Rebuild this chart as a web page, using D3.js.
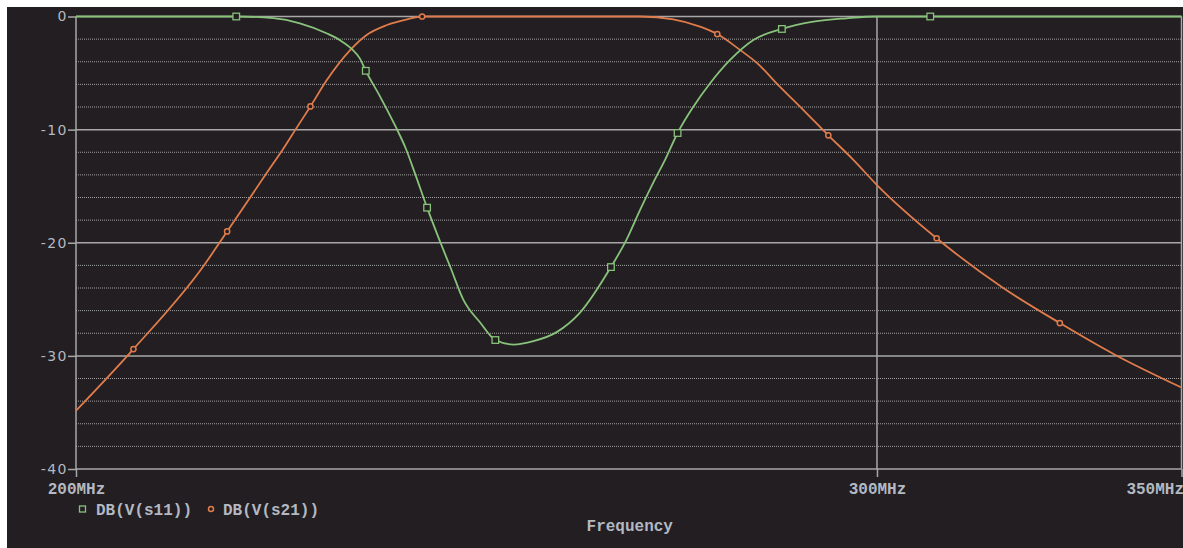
<!DOCTYPE html>
<html>
<head>
<meta charset="utf-8">
<script src="https://cdn.jsdelivr.net/npm/d3@7"></script>
<style>
  body { margin: 0; background: #ffffff; }
  .mono { font-family: "Liberation Mono", "DejaVu Sans Mono", monospace; font-size: 16px; font-weight: bold; fill: #b3b8c1; }
  .y-axis text { font-family: "DejaVu Sans", sans-serif; font-size: 14px; letter-spacing: 1.5px; fill: #b3b8c1; }
  .x-axis text { font-family: "Liberation Mono", monospace; font-size: 16px; font-weight: bold; fill: #b3b8c1; }
  .domain, .tick line { stroke: #a8a8a8; }
</style>
</head>
<body>
<svg id="svgchart"></svg>
<script>
'use strict'

// S21 trace (MHz, dB)
const s21Freq = [200.0, 205.9, 213.3, 215.9, 220.3, 222.2, 223.5, 225.2, 227.1, 229.8, 231.7, 234.1, 236.5, 238.3,
  250.0, 260.0, 266.1, 270.6, 274.3, 276.7, 279.9, 282.3, 285.6, 289.0, 292.7, 296.4, 300.0, 309.2, 319.8, 329.1, 338.4, 350.0]
const s21Db = [-34.85, -29.4, -22.1, -19.0, -13.8, -11.6, -10.0, -7.95, -5.6, -2.95, -1.63, -0.75, -0.25, 0,
  0, 0, 0, -0.25, -0.9, -1.55, -2.95, -4.1, -6.2, -8.25, -10.5, -12.65, -14.9, -19.6, -24.0, -27.1, -29.9, -32.8]
const s21Marks = [205.9, 215.9, 225.2, 238.3, 276.7, 292.7, 309.2, 329.1]

// S11 trace (MHz, dB)
const s11Freq = [200.0, 216.9, 221.0, 224.0, 227.1, 228.6, 230.0, 230.9, 231.6, 233.3, 235.1, 236.3, 237.5, 238.9,
  240.5, 241.7, 243.3, 245.4, 247.3, 249.6, 252.1, 255.1, 258.1, 262.2, 264.3, 266.1, 268.1, 269.5, 271.2,
  273.4, 275.7, 278.5, 281.8, 285.9, 290.5, 295.4, 300.0, 308.2, 350.0]
const s11Db = [0, 0, -0.15, -0.6, -1.5, -2.1, -2.9, -3.7, -4.8, -7.1, -9.7, -11.6, -14.0, -16.9,
  -19.95, -22.1, -25.0, -27.05, -28.6, -29.0, -28.7, -27.9, -26.2, -22.15, -19.7, -17.1, -14.4, -12.65, -10.3,
  -7.95, -5.9, -3.84, -2.07, -1.1, -0.46, -0.16, 0, 0, 0]
const s11Marks = [216.9, 231.6, 238.9, 247.3, 262.2, 271.2, 285.9, 308.2]

const xTicks = [200, 300, 350]
const yTicks = [0, -10, -20, -30, -40]
const yMinor = [-2, -4, -6, -8, -12, -14, -16, -18, -22, -24, -26, -28, -32, -34, -36, -38]
const legendNames = ["DB(V(s11))", "DB(V(s21))"]
const xTitle = "Frequency"

const width = 1183
const height = 548
const margins = {top: 16.5, right: 1.5, bottom: 79, left: 76}
const chartWidth = width - margins.left - margins.right
const chartHeight = height - margins.top - margins.bottom
const bg = "#221e21"
const green = "#88c27b"
const orange = "#e07c4c"

const x = d3.scaleLog().domain([200, 350]).range([0, chartWidth])
const y = d3.scaleLinear().domain([-40, 0]).range([chartHeight, 0])

const svg = d3.select('#svgchart')
  .attr("width", width)
  .attr("height", height)

// dark panel
svg.append("rect")
  .attr("x", 7).attr("y", 7)
  .attr("width", width - 7).attr("height", height - 7)
  .attr("fill", bg)

const chart = svg.append("g")
  .attr("transform", "translate(" + margins.left + "," + margins.top + ")")

// dotted minor grid
chart.selectAll(".minor")
  .data(yMinor)
  .enter().append("line")
  .attr("x1", 0).attr("x2", chartWidth)
  .attr("y1", d => y(d)).attr("y2", d => y(d))
  .attr("stroke", "#b8b8b8")
  .attr("stroke-width", 1)
  .attr("stroke-dasharray", "1 1")
  .attr("opacity", 0.85)

// solid major grid
chart.selectAll(".major")
  .data(yTicks)
  .enter().append("line")
  .attr("x1", 0).attr("x2", chartWidth)
  .attr("y1", d => y(d)).attr("y2", d => y(d))
  .attr("stroke", "#a8a8a8")
  .attr("stroke-width", 1.5)
chart.selectAll(".vmajor")
  .data(xTicks)
  .enter().append("line")
  .attr("x1", d => x(d)).attr("x2", d => x(d))
  .attr("y1", 0).attr("y2", chartHeight)
  .attr("stroke", "#a8a8a8")
  .attr("stroke-width", 1.5)

// y axis (plain hyphen like the original)
const yAxis = chart.append("g")
  .classed("y-axis", true)
  .call(d3.axisLeft(y).tickValues(yTicks).tickFormat(d => String(d)).tickSize(8).tickPadding(0))
yAxis.select(".domain").remove()
yAxis.selectAll("line").attr("stroke-width", 1.5)

// x axis
const xAxis = chart.append("g")
  .classed("x-axis", true)
  .attr("transform", "translate(0," + chartHeight + ")")
  .call(d3.axisBottom(x).tickValues(xTicks).tickFormat(d => d + "MHz").tickSize(8).tickPadding(6))
xAxis.select(".domain").remove()
xAxis.selectAll("line").attr("stroke-width", 1.5)
xAxis.selectAll("text").filter(d => d == 350).attr("text-anchor", "end").attr("dx", 2)

// traces
const line = d3.line()
  .x(d => x(d[0]))
  .y(d => y(d[1]))
  .curve(d3.curveMonotoneX)

const s11 = s11Freq.map((f, i) => [f, s11Db[i]])
const s21 = s21Freq.map((f, i) => [f, s21Db[i]])

chart.append("path").datum(s21)
  .attr("d", line).attr("fill", "none")
  .attr("stroke", orange).attr("stroke-width", 1.8)
chart.append("path").datum(s11)
  .attr("d", line).attr("fill", "none")
  .attr("stroke", green).attr("stroke-width", 1.8)

// markers on the traces
chart.selectAll(".m21")
  .data(s21Marks.map(f => s21.find(p => p[0] == f)))
  .enter().append("circle")
  .attr("cx", d => x(d[0])).attr("cy", d => y(d[1]))
  .attr("r", 2.6)
  .attr("fill", bg).attr("stroke", orange).attr("stroke-width", 1.5)
chart.selectAll(".m11")
  .data(s11Marks.map(f => s11.find(p => p[0] == f)))
  .enter().append("rect")
  .attr("x", d => x(d[0]) - 3.3).attr("y", d => y(d[1]) - 3.3)
  .attr("width", 6.6).attr("height", 6.6)
  .attr("fill", bg).attr("stroke", green).attr("stroke-width", 1.3)

// legend
const legendY = 509
svg.append("rect")
  .attr("x", 79.5).attr("y", legendY - 3)
  .attr("width", 6).attr("height", 6)
  .attr("fill", bg).attr("stroke", green).attr("stroke-width", 1.3)
svg.append("text").classed("mono", true)
  .attr("x", 96).attr("y", legendY).attr("dy", "0.35em")
  .text(legendNames[0])
svg.append("circle")
  .attr("cx", 211).attr("cy", legendY)
  .attr("r", 2.5)
  .attr("fill", bg).attr("stroke", orange).attr("stroke-width", 1.5)
svg.append("text").classed("mono", true)
  .attr("x", 223).attr("y", legendY).attr("dy", "0.35em")
  .text(legendNames[1])

// x axis title
svg.append("text").classed("mono", true)
  .attr("x", margins.left + chartWidth / 2 + 1).attr("y", 525).attr("dy", "0.35em")
  .attr("text-anchor", "middle")
  .text(xTitle)
</script>
</body>
</html>
